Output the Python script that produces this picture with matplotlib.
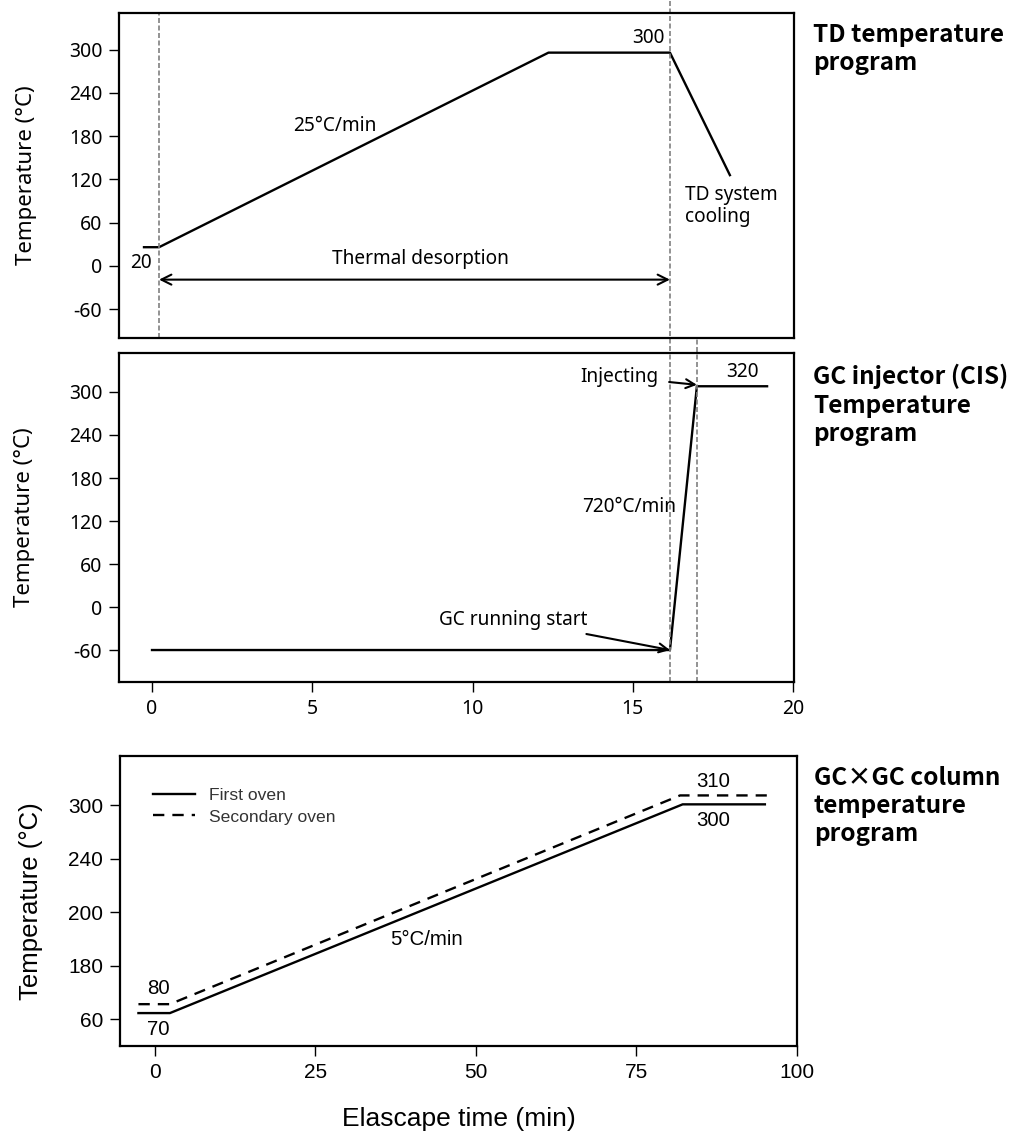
import matplotlib
matplotlib.use('Agg')
import matplotlib.pyplot as plt

# TD temperature program
td_time = [-0.25, 0.22, 12.37, 16.16, 18.03]
td_temp = [26, 26, 296, 296, 126]
td_marks = [0.22, 16.16]

# GC injector (CIS) program
cis_time = [0, 16.16, 17.0, 19.19]
cis_temp = [-60, -60, 308, 308]
cis_marks = [16.16, 17.0]

# GCxGC column program
oven1_time = [-2.5, 2.4, 82.2, 95.0]
oven1_temp = [67, 67, 301, 301]
oven2_time = [-2.5, 2.4, 81.8, 95.3]
oven2_temp = [77, 77, 311, 311]

temp_ticks = [-60, 0, 60, 120, 180, 240, 300]
time_ticks = [0, 5, 10, 15, 20]
col_ticks = [60, 120, 180, 240, 300]
col_tick_labels = ['60', '180', '200', '240', '300']
col_time_ticks = [0, 25, 50, 75, 100]

KR = ['Noto Sans', 'DejaVu Sans']
KRB = ['Noto Sans CJK KR', 'DejaVu Sans']
AR = ['Liberation Sans', 'DejaVu Sans']
GRAY = '#808080'
DASH = (0, (3, 1.5))
W, H = 1019, 1137

fig = plt.figure(figsize=(W / 100, H / 100), dpi=100)
ax1 = fig.add_axes([119 / W, 1 - 338 / H, 675 / W, 325 / H])
ax2 = fig.add_axes([119 / W, 1 - 682 / H, 675 / W, 329 / H])
ax3 = fig.add_axes([120 / W, 1 - 1046 / H, 677 / W, 290 / H])

for ax in (ax1, ax2, ax3):
    for s in ax.spines.values():
        s.set_linewidth(1.6)
    ax.tick_params(direction='out', length=7, width=1, pad=5)

# ---- top panel
ax1.plot(td_time, td_temp, color='black', lw=1.7)
ax1.axvline(td_marks[0], color=GRAY, lw=1.2, ls=DASH)
# right marker runs from the figure top down into the gap above the CIS panel
ax1.plot([td_marks[1]] * 2, [368, -122], color=GRAY, lw=1.2, ls=DASH, clip_on=False)
ax1.set_xlim(-1.03, 20.03)
ax1.set_ylim(-100, 351)
ax1.set_xticks([])
ax1.set_yticks(temp_ticks)
ax1.set_yticklabels([str(t) for t in temp_ticks], family=KR, fontsize=14)
ax1.set_ylabel('Temperature (°C)', family=KR, fontsize=16)
ax1.yaxis.set_label_coords(-0.121, 0.5)
ax1.annotate('', xy=(td_marks[0], -19), xytext=(td_marks[1], -19),
             arrowprops=dict(arrowstyle='<->', color='black', lw=1.5,
                             shrinkA=0, shrinkB=0, mutation_scale=18))
ax1.text(8.36, 9.7, 'Thermal desorption', family=KR, fontsize=13.7, ha='center', va='center')
ax1.text(5.71, 194, '25°C/min', family=KR, fontsize=13.7, ha='center', va='center')
ax1.text(-0.34, 4, '20', family=KR, fontsize=13.7, ha='center', va='center')
ax1.text(15.48, 317, '300', family=KR, fontsize=13.7, ha='center', va='center')
ax1.text(16.63, 83, 'TD system\ncooling', family=KR, fontsize=13.7, ha='left', va='center',
         linespacing=1.15)

# ---- middle panel
ax2.plot(cis_time, cis_temp, color='black', lw=1.7)
ax2.plot([cis_marks[0]] * 2, [-104.6, 354.4], color=GRAY, lw=1.2, ls=DASH)
ax2.plot([cis_marks[1]] * 2, [-104.6, 375], color=GRAY, lw=1.2, ls=DASH, clip_on=False)
ax2.set_xlim(-1.03, 20.03)
ax2.set_ylim(-104.6, 354.4)
ax2.set_xticks(time_ticks)
ax2.set_xticklabels([str(t) for t in time_ticks], family=KR, fontsize=14)
ax2.set_yticks(temp_ticks)
ax2.set_yticklabels([str(t) for t in temp_ticks], family=KR, fontsize=14)
ax2.set_ylabel('Temperature (°C)', family=KR, fontsize=16)
ax2.yaxis.set_label_coords(-0.124, 0.5)
ax2.annotate('Injecting', xy=(17.0, 310), xytext=(14.57, 321),
             family=KR, fontsize=13.7, ha='center', va='center',
             arrowprops=dict(arrowstyle='->', color='black', lw=1.5, shrinkA=6, shrinkB=0,
                             mutation_scale=16))
ax2.annotate('GC running start', xy=(16.16, -60), xytext=(11.26, -18),
             family=KR, fontsize=13.7, ha='center', va='center',
             arrowprops=dict(arrowstyle='->', color='black', lw=1.5, shrinkA=5, shrinkB=0,
                             mutation_scale=16))
ax2.text(18.41, 328, '320', family=KR, fontsize=13.7, ha='center', va='center')
ax2.text(14.88, 139, '720°C/min', family=KR, fontsize=13.7, ha='center', va='center')

# ---- bottom panel
ax3.plot(oven1_time, oven1_temp, color='black', lw=1.7, label='First oven')
ax3.plot(oven2_time, oven2_temp, color='black', lw=1.7, ls=(0, (4.8, 3.4)), label='Secondary oven')
ax3.set_xlim(-5.37, 100)
ax3.set_ylim(30.1, 355.2)
ax3.set_xticks(col_time_ticks)
ax3.set_xticklabels([str(t) for t in col_time_ticks], family=AR, fontsize=15)
ax3.set_yticks(col_ticks)
ax3.set_yticklabels(col_tick_labels, family=AR, fontsize=15)
ax3.set_ylabel('Temperature (°C)', family=AR, fontsize=18.5)
ax3.yaxis.set_label_coords(-0.114, 0.5)
ax3.set_xlabel('Elascape time (min)', family=AR, fontsize=19, labelpad=18)
leg = ax3.legend(loc='upper left', bbox_to_anchor=(0.049, 0.89), frameon=False,
                 prop=dict(family=AR, size=12.6), handlelength=2.4, handletextpad=0.8,
                 labelspacing=0.35, borderpad=0, borderaxespad=0)
for t in leg.get_texts():
    t.set_color('#333333')
ax3.text(0.54, 94, '80', family=AR, fontsize=14.7, ha='center', va='center')
ax3.text(0.54, 49, '70', family=AR, fontsize=14.7, ha='center', va='center')
ax3.text(42.4, 150, '5°C/min', family=AR, fontsize=14.7, ha='center', va='center')
ax3.text(86.96, 327, '310', family=AR, fontsize=14.7, ha='center', va='center')
ax3.text(86.96, 283, '300', family=AR, fontsize=14.7, ha='center', va='center')

# ---- panel titles
title_kw = dict(family=KRB, fontsize=17.5, fontweight='bold', ha='left', va='top', linespacing=1.22)
fig.text(813 / W, 1 - 23 / H, 'TD temperature\nprogram', **title_kw)
fig.text(813 / W, 1 - 364 / H, 'GC injector (CIS)\nTemperature\nprogram', **title_kw)
fig.text(814 / W, 1 - 766 / H, 'GC×GC column\ntemperature\nprogram', **title_kw)

fig.savefig('out.png', dpi=100)
